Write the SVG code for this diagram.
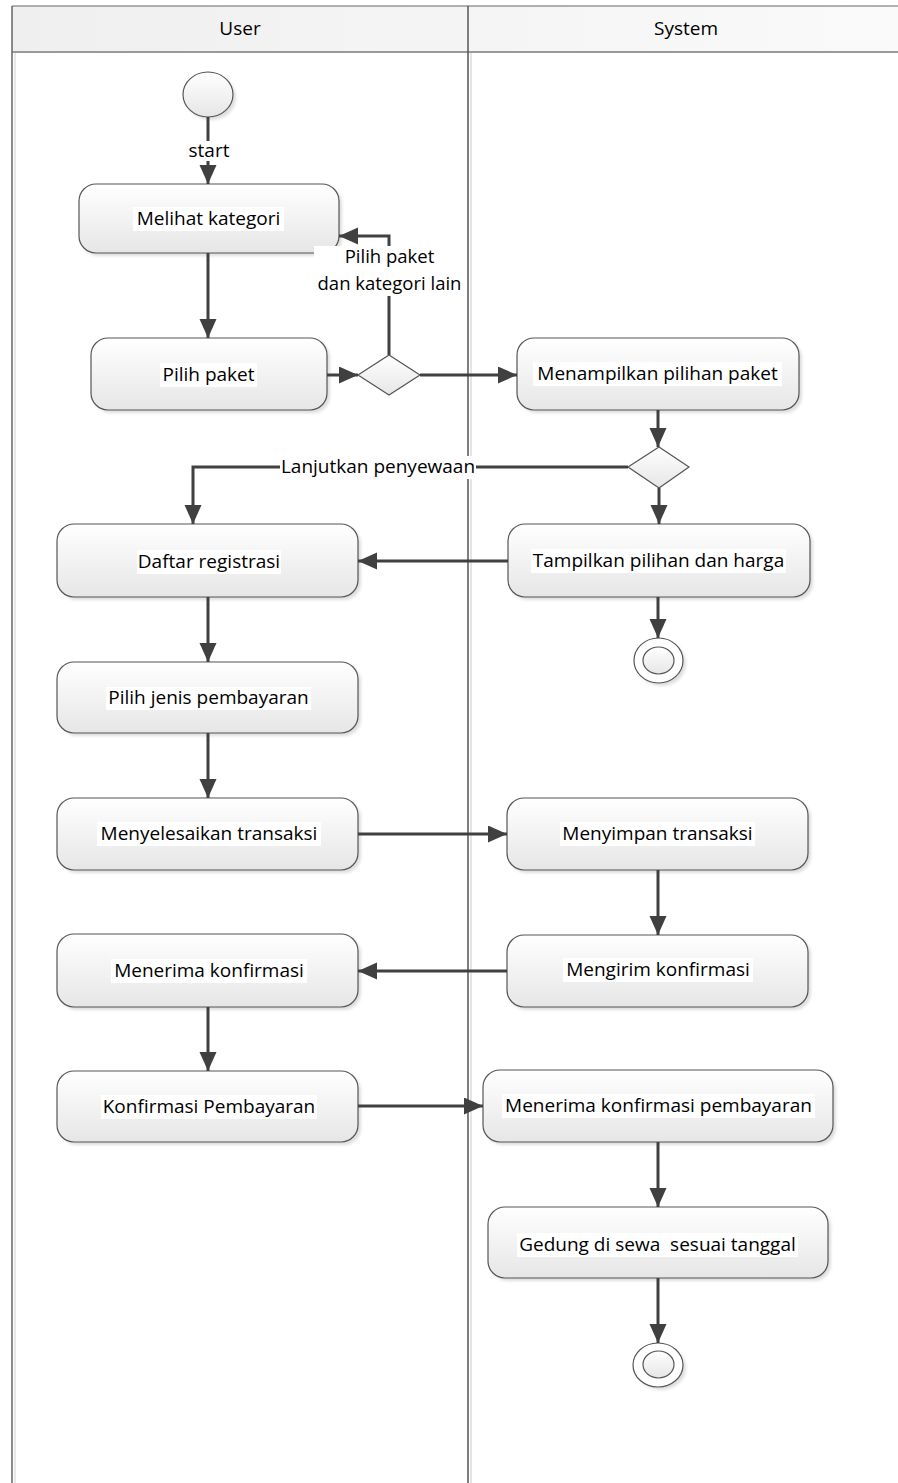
<svg xmlns="http://www.w3.org/2000/svg" width="898" height="1483" viewBox="0 0 898 1483">
<defs>
<style>
text{font-family:"Open Sans","Noto Sans","Liberation Sans",sans-serif;font-size:19px;fill:#000;text-anchor:middle;white-space:pre}
.node{fill:url(#ng);stroke:#555;stroke-width:1.2}
.shadow{fill:#c8c8c8;opacity:0.6;filter:url(#blur)}
.tbg{fill:#fff}
.conn{fill:none;stroke:#404040;stroke-width:3;marker-end:url(#arr)}
.line{fill:none;stroke:#404040;stroke-width:3}
</style>
<linearGradient id="ng" x1="0" y1="0" x2="0" y2="1">
<stop offset="0" stop-color="#ffffff"/>
<stop offset="1" stop-color="#e6e6e6"/>
</linearGradient>
<linearGradient id="hg" x1="0" y1="0" x2="1" y2="0">
<stop offset="0" stop-color="#efefef"/>
<stop offset="1" stop-color="#fafafa"/>
</linearGradient>
<filter id="blur" x="-10%" y="-10%" width="120%" height="120%"><feGaussianBlur stdDeviation="1.5"/></filter>
<marker id="arr" markerUnits="userSpaceOnUse" markerWidth="20" markerHeight="18" refX="19" refY="8.5" orient="auto">
<path d="M0,0 L19,8.5 L0,17 z" fill="#404040"/>
</marker>
</defs>
<rect width="898" height="1483" fill="#fff"/>
<g id="lanes">
<rect x="12" y="6" width="890" height="46" fill="url(#hg)"/>
<line x1="12" y1="6" x2="898" y2="6" stroke="#666" stroke-width="1.2"/>
<line x1="12" y1="52" x2="898" y2="52" stroke="#999" stroke-width="2"/>
<line x1="12" y1="6" x2="12" y2="1483" stroke="#666" stroke-width="1.5"/>
<line x1="15" y1="53" x2="15" y2="1483" stroke="#e0e0e0" stroke-width="1.5"/>
<line x1="468" y1="6" x2="468" y2="1483" stroke="#555" stroke-width="1.5"/>
<line x1="471" y1="53" x2="471" y2="1483" stroke="#dcdcdc" stroke-width="1.5"/>
<text x="240" y="35">User</text>
<text x="686" y="35">System</text>
</g>
<g id="start">
<ellipse class="shadow" cx="211" cy="97.5" rx="25" ry="22.5"/>
<ellipse class="node" cx="208" cy="94.5" rx="25" ry="22.5"/>
</g>
<g id="n_melihat">
<rect class="shadow" x="82" y="187" width="260" height="69" rx="17"/>
<rect class="node" x="79" y="184" width="260" height="69" rx="17"/>
<rect class="tbg" x="133" y="207" width="151" height="24"/>
<text x="208.5" y="225">Melihat kategori</text>
</g>
<g id="n_pilihpaket">
<rect class="shadow" x="94" y="341" width="236" height="72" rx="17"/>
<rect class="node" x="91" y="338" width="236" height="72" rx="17"/>
<rect class="tbg" x="160" y="363" width="97" height="24"/>
<text x="208.5" y="381">Pilih paket</text>
</g>
<g id="d_1">
<polygon class="node" points="358,375 389,355 420,375 389,395"/>
</g>
<g id="n_menampilkan">
<rect class="shadow" x="520" y="341" width="282" height="72" rx="17"/>
<rect class="node" x="517" y="338" width="282" height="72" rx="17"/>
<rect class="tbg" x="533" y="362" width="249" height="24"/>
<text x="657.5" y="380">Menampilkan pilihan paket</text>
</g>
<g id="d_2">
<polygon class="node" points="628,467 659,447 689,467 659,488"/>
</g>
<g id="n_daftar">
<rect class="shadow" x="60" y="527" width="301" height="73" rx="17"/>
<rect class="node" x="57" y="524" width="301" height="73" rx="17"/>
<rect class="tbg" x="137" y="550" width="144" height="24"/>
<text x="209" y="568">Daftar registrasi</text>
</g>
<g id="n_tampilkan">
<rect class="shadow" x="511" y="527" width="302" height="73" rx="17"/>
<rect class="node" x="508" y="524" width="302" height="73" rx="17"/>
<rect class="tbg" x="531" y="549" width="255" height="24"/>
<text x="658.5" y="567">Tampilkan pilihan dan harga</text>
</g>
<g id="end_1">
<ellipse class="shadow" cx="661.5" cy="663.5" rx="24.5" ry="22.5"/>
<ellipse cx="658.5" cy="660.5" rx="24.5" ry="22.5" fill="#fff" stroke="#555" stroke-width="1.2"/>
<ellipse class="node" cx="658.5" cy="660.5" rx="15.5" ry="13.5"/>
</g>
<g id="n_pilihjenis">
<rect class="shadow" x="60" y="665" width="301" height="71" rx="17"/>
<rect class="node" x="57" y="662" width="301" height="71" rx="17"/>
<rect class="tbg" x="106" y="687" width="205" height="23"/>
<text x="208.5" y="704">Pilih jenis pembayaran</text>
</g>
<g id="n_menyelesaikan">
<rect class="shadow" x="60" y="801" width="301" height="72" rx="17"/>
<rect class="node" x="57" y="798" width="301" height="72" rx="17"/>
<rect class="tbg" x="97" y="822" width="224" height="24"/>
<text x="209" y="840">Menyelesaikan transaksi</text>
</g>
<g id="n_menyimpan">
<rect class="shadow" x="510" y="801" width="301" height="72" rx="17"/>
<rect class="node" x="507" y="798" width="301" height="72" rx="17"/>
<rect class="tbg" x="560" y="822" width="195" height="24"/>
<text x="657.5" y="840">Menyimpan transaksi</text>
</g>
<g id="n_mengirim">
<rect class="shadow" x="510" y="938" width="301" height="72" rx="17"/>
<rect class="node" x="507" y="935" width="301" height="72" rx="17"/>
<rect class="tbg" x="563" y="958" width="190" height="24"/>
<text x="658" y="976">Mengirim konfirmasi</text>
</g>
<g id="n_menerima">
<rect class="shadow" x="60" y="937" width="301" height="73" rx="17"/>
<rect class="node" x="57" y="934" width="301" height="73" rx="17"/>
<rect class="tbg" x="111" y="959" width="196" height="24"/>
<text x="209" y="977">Menerima konfirmasi</text>
</g>
<g id="n_konfirmasi">
<rect class="shadow" x="60" y="1074" width="301" height="71" rx="17"/>
<rect class="node" x="57" y="1071" width="301" height="71" rx="17"/>
<rect class="tbg" x="101" y="1095" width="216" height="24"/>
<text x="209" y="1113">Konfirmasi Pembayaran</text>
</g>
<g id="n_menerimapemb">
<rect class="shadow" x="486" y="1073" width="350" height="72" rx="17"/>
<rect class="node" x="483" y="1070" width="350" height="72" rx="17"/>
<rect class="tbg" x="502" y="1094" width="313" height="24"/>
<text x="658.5" y="1112">Menerima konfirmasi pembayaran</text>
</g>
<g id="n_gedung">
<rect class="shadow" x="491" y="1210" width="340" height="71" rx="17"/>
<rect class="node" x="488" y="1207" width="340" height="71" rx="17"/>
<rect class="tbg" x="517" y="1233" width="281" height="24"/>
<text x="657.5" y="1251">Gedung di sewa  sesuai tanggal</text>
</g>
<g id="end_2">
<ellipse class="shadow" cx="661" cy="1368" rx="25" ry="22"/>
<ellipse cx="658" cy="1365" rx="25" ry="22" fill="#fff" stroke="#555" stroke-width="1.2"/>
<ellipse class="node" cx="658.5" cy="1364.5" rx="15.5" ry="13.5"/>
</g>
<g id="connectors">
<path class="conn" d="M208,117 V184"/>
<path class="conn" d="M208,253 V338"/>
<path class="conn" d="M327,375 H358"/>
<path class="conn" d="M389,355 V236 H339"/>
<path class="conn" d="M420,375 H517"/>
<path class="conn" d="M658,410 V447"/>
<path class="conn" d="M628,467 H193 V524"/>
<path class="conn" d="M659,488 V524"/>
<path class="conn" d="M508,561 H358"/>
<path class="conn" d="M658,597 V638"/>
<path class="conn" d="M208,597 V662"/>
<path class="conn" d="M208,733 V798"/>
<path class="conn" d="M358,834 H507"/>
<path class="conn" d="M658,870 V935"/>
<path class="conn" d="M507,971 H358"/>
<path class="conn" d="M208,1007 V1071"/>
<path class="conn" d="M358,1106 H483"/>
<path class="conn" d="M658,1142 V1207"/>
<path class="conn" d="M658,1278 V1343"/>
</g>
<g id="connector_labels">
<rect class="tbg" x="188" y="141" width="42" height="20"/>
<text x="209" y="157">start</text>
<rect class="tbg" x="314" y="246" width="151" height="50"/>
<text x="389.5" y="263" style="font-size:18.5px">Pilih paket</text>
<text x="389.5" y="290" style="font-size:18.5px">dan kategori lain</text>
<rect class="tbg" x="280" y="456" width="196" height="23"/>
<text x="378" y="473">Lanjutkan penyewaan</text>
</g>
</svg>
